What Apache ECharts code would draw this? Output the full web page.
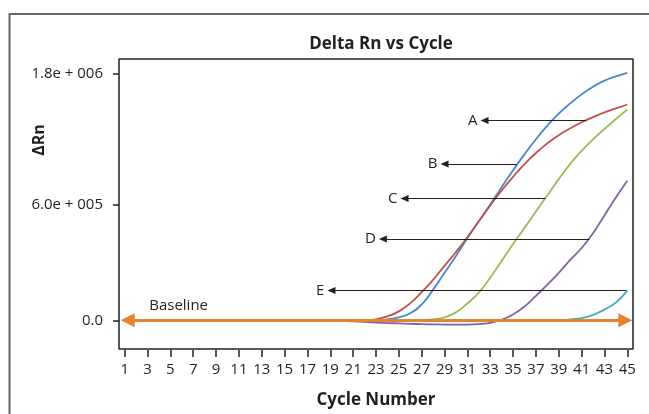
<!DOCTYPE html>
<html>
<head>
<meta charset="utf-8">
<script src="https://cdn.jsdelivr.net/npm/echarts@6/dist/echarts.min.js"></script>
<style>
html,body{margin:0;padding:0;background:#fff;}
#chart{width:649px;height:414px;}
</style>
</head>
<body>
<div id="chart"></div>
<script>
// ---- data ----
const cycles = [19,20,21,22,23,24,25,26,27,28,29,30,31,32,33,34,35,36,37,38,39,40,41,42,43,44,45];
const curveA = [0,0,0,0,0,7000,22000,51000,116000,224000,347000,470000,600000,723000,846000,972000,1096000,1212000,1322000,1422000,1510000,1584000,1650000,1706000,1750000,1781000,1807000];
const curveB = [0,0,0,0,7000,29000,65000,125000,205000,296000,398000,499000,607000,723000,839000,947000,1048000,1140000,1222000,1292000,1352000,1402000,1446000,1484000,1518000,1548000,1576000];
const curveC = [0,0,0,0,0,0,0,0,0,7000,22000,58000,123000,202000,311000,434000,557000,675000,795000,913000,1031000,1142000,1238000,1322000,1397000,1470000,1540000];
const curveD = [0,-4000,-7000,-12000,-16000,-20000,-23000,-26000,-28000,-30000,-31000,-31000,-31000,-28000,-18000,4000,43000,101000,178000,260000,347000,441000,528000,636000,766000,896000,1019000];
const curveE = [0,0,0,0,0,0,0,0,0,0,0,0,0,0,0,0,0,0,0,0,0,7000,16000,40000,78000,130000,217000];
const xTicks = [1,3,5,7,9,11,13,15,17,19,21,23,25,27,29,31,33,35,37,39,41,43,45];
const yTickValues = [0, 846000, 1800000];
const yTickLabels = ['0.0', '6.0e + 005', '1.8e + 006'];
// annotation arrows: [label, y value, cycle at curve, cycle at arrow tip]
const annotations = [
  ['A', 1460000, 41.42, 32.5],
  ['B', 1142000, 35.30, 29.0],
  ['C', 889000, 37.83, 25.5],
  ['D', 593000, 41.68, 23.6],
  ['E', 217000, 44.92, 19.1]
];
const baselineRange = [1.26, 44.83];
const baselineLabel = ['Baseline', 5.72, 108000];

const colors = ['#4a86c8', '#c0504d', '#9bbb59', '#8064a2', '#4bacc6'];
const curves = [curveA, curveB, curveC, curveD, curveE];
const FONT = '"Open Sans", sans-serif';
const TXT = '#231f20';

const chart = echarts.init(document.getElementById('chart'), null, {renderer: 'canvas'});

const series = curves.map((vals, i) => ({
  type: 'line',
  data: cycles.map((c, j) => [c, vals[j]]),
  smooth: 0.5,
  showSymbol: false,
  symbol: 'none',
  lineStyle: {color: colors[i], width: 1.8},
  z: 2
}));

series.push({
  type: 'line',
  data: [],
  z: 5,
  markLine: {
    silent: true,
    symbol: ['none', 'triangle'],
    symbolSize: [7, 8],
    lineStyle: {color: TXT, width: 1, type: 'solid'},
    label: {show: true, position: 'end', distance: 7, color: TXT, fontSize: 15, fontFamily: FONT,
      formatter: p => p.name},
    emphasis: {disabled: true},
    data: annotations.map(a => [
      {name: a[0], coord: [a[2], a[1]]},
      {coord: [a[3], a[1]]}
    ])
  }
});

series.push({
  type: 'line',
  data: [],
  z: 6,
  markLine: {
    silent: true,
    symbol: ['triangle', 'triangle'],
    symbolSize: [14, 14],
    lineStyle: {color: '#e8822e', width: 3.2, type: 'solid'},
    itemStyle: {color: '#e8822e'},
    label: {show: false},
    emphasis: {disabled: true},
    data: [[{coord: [baselineRange[0], 0]}, {coord: [baselineRange[1], 0]}]]
  },
  markPoint: {
    silent: true,
    symbol: 'circle',
    symbolSize: 0,
    label: {show: true, position: 'inside', color: TXT, fontSize: 15, fontFamily: FONT,
      formatter: p => p.name},
    data: [{name: baselineLabel[0], coord: [baselineLabel[1], baselineLabel[2]]}]
  }
});

chart.setOption({
  animation: false,
  backgroundColor: '#ffffff',
  title: {
    text: 'Delta Rn vs Cycle',
    left: 376, top: 31, textAlign: 'center',
    textStyle: {fontFamily: FONT, fontSize: 17, fontWeight: 'bold', color: TXT}
  },
  grid: {
    left: 119, top: 59, right: 16, bottom: 62,
    show: true, borderColor: '#222', borderWidth: 1.5, backgroundColor: 'transparent'
  },
  xAxis: {
    type: 'value', min: 0.5, max: 45.5,
    offset: 1,
    name: 'Cycle Number', nameLocation: 'middle', nameGap: 42,
    nameTextStyle: {fontFamily: FONT, fontSize: 17, fontWeight: 'bold', color: TXT},
    axisLine: {show: false, onZero: false},
    splitLine: {show: false},
    axisTick: {show: true, customValues: xTicks, length: 7, lineStyle: {color: '#222', width: 1.5}},
    axisLabel: {customValues: xTicks, margin: 12, fontFamily: FONT, fontSize: 15, color: TXT}
  },
  yAxis: {
    type: 'value', min: -209639, max: 1908434,
    axisLine: {show: false, onZero: false},
    splitLine: {show: false},
    axisTick: {show: true, customValues: yTickValues, length: 6, lineStyle: {color: '#222', width: 1.5}},
    axisLabel: {customValues: yTickValues, margin: 16, fontFamily: FONT, fontSize: 15, color: TXT,
      formatter: v => {
        const i = yTickValues.indexOf(v);
        return i >= 0 ? yTickLabels[i] : '';
      }}
  },
  graphic: [
    {type: 'rect', shape: {x: 9.5, y: 14, width: 800, height: 600}, style: {fill: 'none', stroke: '#666', lineWidth: 2}, silent: true, z: -1},
    {type: 'text', x: 39, y: 140, rotation: Math.PI / 2,
      style: {text: 'ΔRn', fontFamily: FONT, fontSize: 16, fontWeight: 'bold', fill: TXT, align: 'center', verticalAlign: 'middle'}}
  ],
  series: series
});
</script>
</body>
</html>
